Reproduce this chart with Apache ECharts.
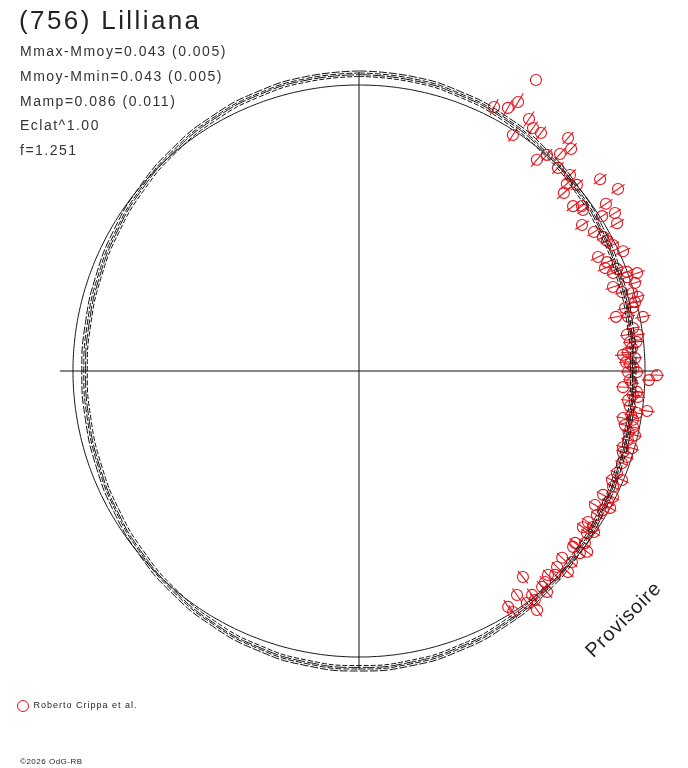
<!DOCTYPE html>
<html>
<head>
<meta charset="utf-8">
<script src="https://cdn.jsdelivr.net/npm/echarts@6/dist/echarts.min.js"></script>
<style>html,body{margin:0;padding:0;background:#fff}#chart{width:688px;height:768px}</style>
</head>
<body>
<div id="chart"></div>
<script>
// ---------- data (phase angle in degrees clockwise from top, radius in plot units, half error) ----------
const phaseDeg = [31.3,27.1,29.5,30.6,34.0,35.6,37.4,33.1,41.9,43.7,42.8,41.0,40.1,44.4,47.1,48.0,49.5,49.0,51.5,52.4,
  53.5,54.3,55.9,57.5,54.9,58.3,60.2,56.8,59.4,61.2,62.3,63.6,65.6,64.5,66.3,68.4,67.3,68.9,69.7,70.6,
  72.3,70.7,71.7,73.3,74.1,75.1,76.7,76.9,78.1,78.6,79.2,76.0,81.1,82.6,83.9,85.2,86.5,87.3,88.5,90.2,
  90.2,82.3,88.1,90.8,91.8,91.9,93.5,94.3,96.2,95.3,97.9,98.6,97.4,100.1,101.5,101.6,103.1,104.4,106.1,92.5,
  100.1,105.8,107.1,107.8,109.3,111.6,112.5,113.3,114.5,116.9,116.4,117.8,119.6,119.7,121.2,118.6,123.4,124.9,123.7,125.4,
  124.4,128.5,127.3,129.4,128.4,129.5,132.6,131.9,134.7,133.9,137.2,136.1,138.6,141.5,139.7,144.8,142.3,139.6,147.7,142.5,
  143.3,147.4,144.1,84.0,86.0,89.3,95.0,99.2,102.8];
const radiusVal = [340.6,296.5,302.3,312.5,304.0,298.9,299.6,281.8,313.0,307.0,295.8,286.4,276.1,284.3,288.0,279.7,286.6,271.5,308.1,270.2,
  277.4,275.9,298.2,288.2,316.6,300.8,297.4,266.5,273.0,278.4,280.0,283.5,290.0,264.8,270.9,277.4,266.7,272.3,285.7,294.8,
  289.7,284.0,267.5,274.6,283.9,288.6,273.4,281.4,262.6,274.4,289.1,284.5,277.4,281.3,272.5,274.0,264.5,276.3,271.1,269.0,
  278.0,270.4,267.2,298.0,290.1,271.1,264.5,278.8,270.6,280.2,290.8,281.2,273.3,268.2,271.4,279.7,283.3,277.7,274.7,273.3,
  278.3,283.7,276.1,281.5,278.6,277.4,284.7,275.5,279.2,273.7,283.5,281.4,271.4,280.8,278.2,286.0,274.3,273.0,281.2,279.7,
  284.9,276.1,284.0,277.1,291.1,286.3,276.0,286.1,278.6,290.0,278.1,282.9,281.3,263.3,283.1,274.1,283.0,290.1,279.1,288.8,
  298.0,286.0,286.4,279.0,269.5,274.5,275.0,275.8,276.5];
const errHalf = [0,9,9,10,9,8,8,8,8,8,8,8,9,8,8,8,8,9,8,8,
  7,7,8,7,8,7,8,8,8,7,7,7,8,8,8,7,8,7,8,8,
  7,7,8,7,7,7,8,7,8,7,8,7,7,7,7,7,8,7,7,7,
  7,7,7,7,7,7,7,7,7,7,8,7,7,7,7,7,7,7,7,7,
  7,7,7,7,7,7,7,7,7,7,7,7,7,7,7,7,7,7,7,7,
  7,7,7,7,7,7,7,7,7,7,7,7,8,8,8,8,8,8,8,8,
  8,8,8,7,7,7,7,7,7];

// model lightcurves, radius sampled every 10 degrees of phase (0..360)
const modelPhase = [0,10,20,30,40,50,60,70,80,90,100,110,120,130,140,150,160,170,180,
  190,200,210,220,230,240,250,260,270,280,290,300,310,320,330,340,350,360];
const model1 = [300,299.3,297.3,294.3,290.5,286.5,282.8,279.7,277.7,277,277.6,279.6,282.7,286.5,290.6,294.3,297.4,299.4,300,
  299.3,297.3,294.2,290.5,286.4,282.7,279.7,277.8,277.2,277.8,279.8,282.8,286.5,290.5,294.2,297.2,299.2,300];
const model2 = [298,297.3,295.3,292.3,288.5,284.5,280.8,277.7,275.7,275,275.6,277.6,280.7,284.5,288.6,292.3,295.4,297.4,298,
  297.3,295.3,292.2,288.5,284.4,280.7,277.7,275.8,275.2,275.8,277.8,280.8,284.5,288.5,292.2,295.2,297.2,298];
const model3 = [296.3,295.6,293.7,290.8,287,283,279.3,276.2,274.2,273.5,274.2,276.2,279.3,283,287,290.8,293.8,295.8,296.4,
  295.7,293.8,290.8,287,283,279.3,276.2,274.2,273.4,274,276,279.2,283,287,290.7,293.7,295.6,296.3];
const model4 = [294.5,293.8,291.8,288.8,285,281,277.3,274.2,272.2,271.5,272.2,274.2,277.3,281,285,288.8,291.9,293.9,294.5,
  293.8,291.8,288.7,285,280.9,277.2,274.2,272.3,271.7,272.3,274.3,277.3,281,285,288.7,291.7,293.7,294.5];
const refRadius = 286;
const axisReach = 299;

const titleText = '(756) Lilliana';
const statLines = ['Mmax-Mmoy=0.043 (0.005)','Mmoy-Mmin=0.043 (0.005)','Mamp=0.086 (0.011)','Eclat^1.00','f=1.251'];
const observer = 'Roberto Crippa et al.';
const watermark = 'Provisoire';
const copyright = '\u00A92026 OdG-RB';

// ---------- rendering ----------
// glyph tracking per font size, to mimic the wide spacing of the original bitmap text
const TRACK = {26: 2.4, 14: 1.5, 20: 0.9, 9: 1.0, 8: 0.5};
(function(){
  const P = CanvasRenderingContext2D.prototype;
  if (!('letterSpacing' in P)) return;
  const orig = P.fillText;
  P.fillText = function(t, x, y, m){
    const mm = /([\d.]+)px/.exec(this.font);
    const fs = mm ? parseFloat(mm[1]) : 12;
    const prev = this.letterSpacing;
    this.letterSpacing = (TRACK[fs] || 0) + 'px';
    const r = (m === undefined) ? orig.call(this, t, x, y) : orig.call(this, t, x, y, m);
    this.letterSpacing = prev;
    return r;
  };
})();

const RED = '#e4141c';
const INK = '#111';
const FONT = '"Liberation Sans", Arial, sans-serif';

const points = phaseDeg.map((p, i) => [radiusVal[i], p, errHalf[i]]);
const toPolar = arr => arr.map((r, i) => [r, modelPhase[i]]);
const circlePts = [];
for (let a = 0; a <= 360; a += 3) circlePts.push([refRadius, a]);

const chart = echarts.init(document.getElementById('chart'), null, {renderer: 'canvas'});
const lineBase = (data, type, z) => ({
  type: 'line', coordinateSystem: 'polar', data: data, symbol: 'none', smooth: 0.5,
  silent: true, z: z, lineStyle: {color: INK, width: 1, type: type}, clip: false
});

chart.setOption({
  animation: false,
  backgroundColor: '#fff',
  polar: {center: [359, 371], radius: 360},
  angleAxis: {type: 'value', min: 0, max: 360, startAngle: 90, clockwise: true,
    axisLine: {show: false}, axisTick: {show: false}, axisLabel: {show: false}, splitLine: {show: false}},
  radiusAxis: {type: 'value', min: 0, max: 360,
    axisLine: {show: false}, axisTick: {show: false}, axisLabel: {show: false}, splitLine: {show: false}},
  legend: {
    data: [{name: observer, icon: 'circle', itemStyle: {color: '#fff', borderColor: RED, borderWidth: 1}}],
    left: 17, top: 700, itemWidth: 11, itemHeight: 11, padding: 0, selectedMode: false,
    textStyle: {fontSize: 9, color: '#222', fontFamily: FONT}
  },
  series: [
    {type: 'line', coordinateSystem: 'polar', data: [[axisReach, 0], [0, 0], [axisReach, 180]], symbol: 'none',
      silent: true, z: 1, lineStyle: {color: INK, width: 1}},
    {type: 'line', coordinateSystem: 'polar', data: [[axisReach, 270], [0, 0], [axisReach, 90]], symbol: 'none',
      silent: true, z: 1, lineStyle: {color: INK, width: 1}},
    lineBase(circlePts, 'solid', 2),
    {
      type: 'custom', name: observer, coordinateSystem: 'polar', z: 3,
      encode: {radius: 0, angle: 1},
      itemStyle: {color: RED},
      data: points,
      renderItem: function(params, api){
        const r = api.value(0), a = api.value(1), e = api.value(2);
        const c = api.coord([r, a]);
        const kids = [{type: 'circle', shape: {cx: c[0], cy: c[1], r: 5.5},
          style: {fill: 'none', stroke: RED, lineWidth: 1.1}}];
        if (e > 0) {
          const p1 = api.coord([r - e, a]), p2 = api.coord([r + e, a]);
          kids.push({type: 'line', shape: {x1: p1[0], y1: p1[1], x2: p2[0], y2: p2[1]},
            style: {stroke: RED, lineWidth: 1.1}});
        }
        return {type: 'group', children: kids};
      }
    },
    lineBase(toPolar(model1), [8, 2], 4),
    lineBase(toPolar(model2), [6, 2], 4),
    lineBase(toPolar(model3), [12, 2], 4),
    lineBase(toPolar(model4), [5, 2], 4)
  ],
  graphic: [
    {type: 'text', x: 19, y: 22, style: {text: titleText, fontSize: 26, fontFamily: FONT, fill: '#222', align: 'left', verticalAlign: 'middle'}},
    ...statLines.map((t, i) => ({type: 'text', x: 20, y: 52.5 + i * 24.6,
      style: {text: t, fontSize: 14, fontFamily: FONT, fill: '#333', align: 'left', verticalAlign: 'middle'}})),
    {type: 'text', x: 624, y: 620, rotation: Math.PI / 4,
      style: {text: watermark, fontSize: 20, fontFamily: FONT, fill: '#222', align: 'center', verticalAlign: 'middle'}},
    {type: 'text', x: 20, y: 762, style: {text: copyright, fontSize: 8, fontFamily: FONT, fill: '#222', align: 'left', verticalAlign: 'middle'}}
  ]
});
</script>
</body>
</html>
